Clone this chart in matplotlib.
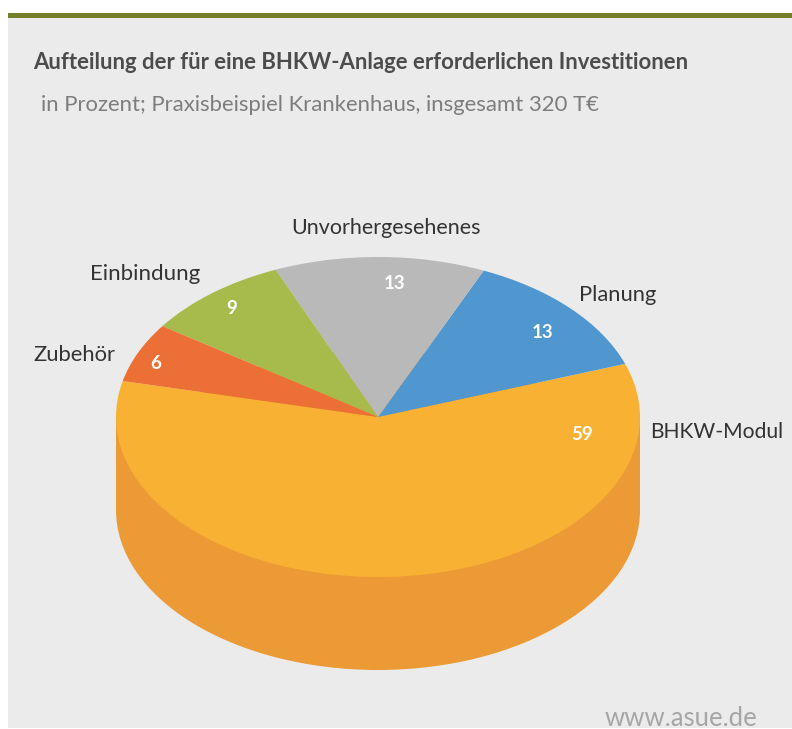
import matplotlib
matplotlib.use('Agg')
import matplotlib.pyplot as plt
from matplotlib.patches import Rectangle

# Werte aus dem Bild
labels = ['BHKW-Modul', 'Planung', 'Unvorhergesehenes', 'Einbindung', 'Zubehör']
values = [59, 13, 13, 9, 6]
colors = ['#f8b133', '#5197cf', '#b9b9b9', '#a6bb4c', '#ec6f35']
side_color = '#ec9a35'

W, H = 792, 729
plt.rcParams['font.family'] = ['Lato', 'DejaVu Sans']

fig = plt.figure(figsize=(W / 100, H / 100), dpi=100, facecolor='white')

# Hintergrund in Pixelkoordinaten
bg = fig.add_axes([0, 0, 1, 1])
bg.set_xlim(0, W)
bg.set_ylim(H, 0)
bg.axis('off')
bg.add_patch(Rectangle((8, 18), W - 8, H - 19, color='#ebebeb', lw=0))
bg.add_patch(Rectangle((8, 13), W - 8, 5, color='#757f2c', lw=0))

bg.text(33, 62, 'Aufteilung der für eine BHKW-Anlage erforderlichen Investitionen',
        fontsize=15.95, fontweight='bold', color='#4c4c4c', va='center', ha='left')
bg.text(41, 105, 'in Prozent; Praxisbeispiel Krankenhaus, insgesamt 320 T€',
        fontsize=15.9, color='#7d7d7d', va='center', ha='left')
bg.text(757, 719, 'www.asue.de', fontsize=18.5, color='#a6a6a6',
        va='center', ha='right')

# Kreis als Ellipse: Achse so gelegt, dass Radius 1 = 262 x 160 Pixel
cx, cy, rx, ry, depth = 378, 417, 262, 160, 93
ax = fig.add_axes([(cx - rx * 1.25) / W, 1 - (cy + ry * 1.25) / H,
                   rx * 2.5 / W, ry * 2.5 / H])
d = depth / ry

# Seitenwand: gleicher Kreis nach unten versetzt, dazu die Fläche dazwischen
ax.pie([1], colors=[side_color], center=(0, -d), radius=1, frame=False)
ax.fill_between([-1, 1], [-d, -d], [0, 0], color=side_color, lw=0)
wedges, _ = ax.pie(values, colors=colors, startangle=167, counterclock=True,
                   radius=1, wedgeprops={'linewidth': 0})
ax.set_aspect('auto')
ax.set_xlim(-1.25, 1.25)
ax.set_ylim(-1.25, 1.25)
ax.axis('off')

# Beschriftungen
label_pos = [(650, 432, 'left'), (579, 295, 'left'), (386, 228, 'center'),
             (90, 274, 'left'), (33, 355, 'left')]
label_size = [15.2, 15.8, 15.5, 16, 15.8]
value_pos = [(582, 435), (543, 333), (395, 284), (232, 309), (156, 363)]
for lab, val, (lx, ly, ha), fs, (vx, vy) in zip(labels, values, label_pos, label_size, value_pos):
    fig.text(lx / W, 1 - ly / H, lab, fontsize=fs, color='#333333', ha=ha, va='center')
    fig.text(vx / W, 1 - vy / H, str(val), fontsize=13.5, fontweight='bold', color='white',
             ha='center', va='center')

fig.savefig('out.png', dpi=100)
